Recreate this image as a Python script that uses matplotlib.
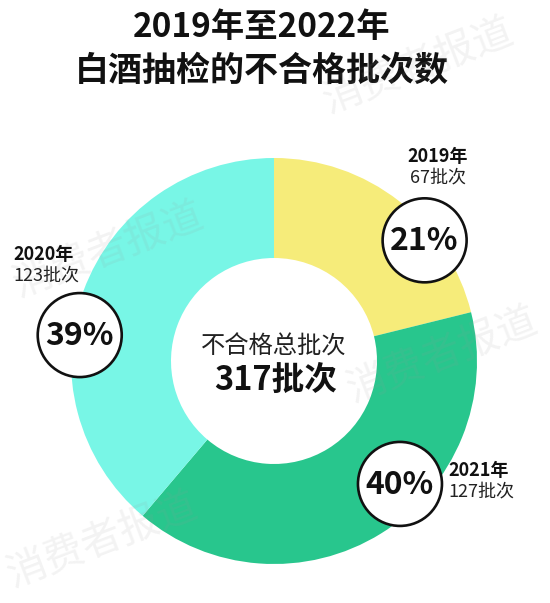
import matplotlib
matplotlib.use("Agg")
import matplotlib.pyplot as plt
from matplotlib.patches import Circle
import numpy as np

plt.rcParams['font.family'] = ['Noto Sans CJK SC', 'DejaVu Sans']

# Data
years = ["2019年", "2021年", "2020年"]
batches = [67, 127, 123]
colors = ["#F6EC7A", "#28C68D", "#78F6E6"]
title_lines = ["2019年至2022年", "白酒抽检的不合格批次数"]
center_caption = "不合格总批次"
unit = "批次"

total = sum(batches)
pcts = [round(v / total * 100) for v in batches]

W, H = 550, 603
fig = plt.figure(figsize=(W / 100, H / 100), dpi=100)
ax = fig.add_axes([0, 0, 1, 1])

cx, cy = 274, H - 361
R_out, ring_w = 203, 100

ax.pie(batches, colors=colors, startangle=90, counterclock=False,
       radius=R_out, center=(cx, cy), frame=True,
       wedgeprops=dict(width=ring_w, edgecolor='none', linewidth=0))
ax.set_xlim(0, W)
ax.set_ylim(0, H)
ax.set_aspect('equal')
ax.axis('off')

# Watermarks
wm_pos = [(418, H - 66), (108, H - 250), (442, H - 355), (102, H - 540)]
for (wx, wy) in wm_pos:
    ax.text(wx, wy, "消费者报道", fontsize=29, color='#9a9a9a', alpha=0.12,
            rotation=21, ha='center', va='center', weight='light', zorder=6)

# Title
ax.text(262, H - 28, title_lines[0], fontsize=24, weight='heavy',
        ha='center', va='center', color='#111111')
ax.text(262, H - 70, title_lines[1], fontsize=24.5, weight='heavy',
        ha='center', va='center', color='#111111')

# Center text
ax.text(274, H - 347, center_caption, fontsize=17.5, ha='center', va='center',
        color='#222222')
ax.text(276, H - 380, f"{total}{unit}", fontsize=23.5, weight='bold',
        ha='center', va='center', color='#111111')

# Percentage badges (angle in degrees, distance from centre) and side labels
badge_polar = [(38.7, 193), (-44.3, 176), (172.4, 196)]
label_xy = [(438, H - 167, 'center'), (448, H - 481, 'left'), (13, H - 265, 'left')]
for i, (ang, dist) in enumerate(badge_polar):
    bx = cx + dist * np.cos(np.radians(ang))
    by = cy + dist * np.sin(np.radians(ang))
    ax.add_patch(Circle((bx, by), 42, facecolor='white', edgecolor='#111111',
                        linewidth=1.9, zorder=10))
    ax.text(bx, by - 1, f"{pcts[i]}%", fontsize=23, weight='bold',
            ha='center', va='center', color='#111111', zorder=11)
    lx, ly, ha = label_xy[i]
    ax.text(lx, ly + 10, years[i], fontsize=13, weight='bold', ha=ha,
            va='center', color='#111111', zorder=11)
    ax.text(lx, ly - 10, f"{batches[i]}{unit}", fontsize=13, weight='light',
            ha=ha, va='center', color='#222222', zorder=11)

fig.savefig("out.png", dpi=100, facecolor='white')
